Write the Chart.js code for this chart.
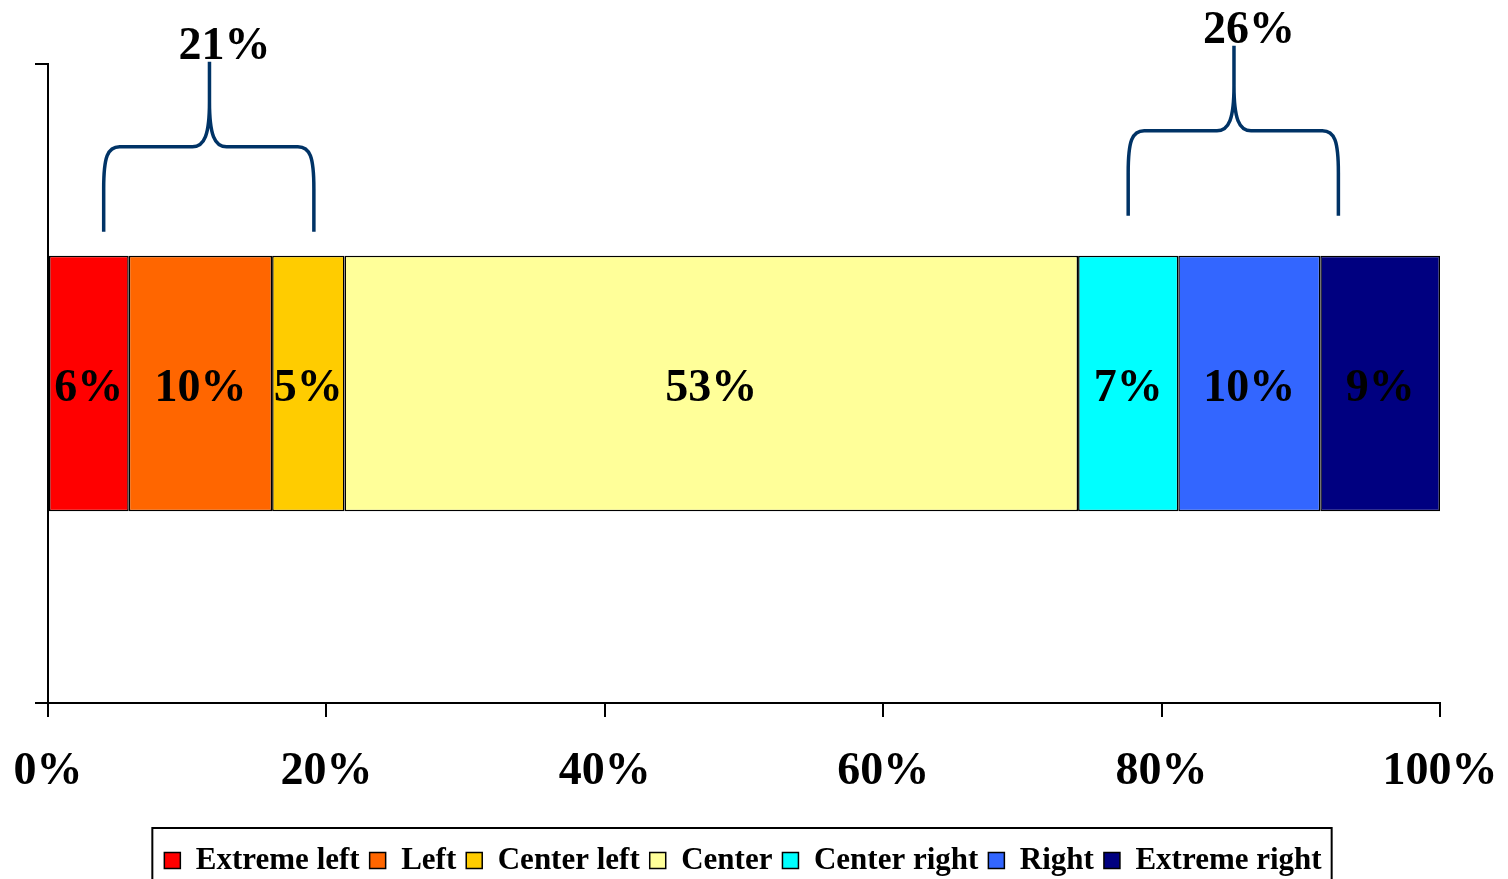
<!DOCTYPE html>
<html>
<head>
<meta charset="utf-8">
<script src="https://cdn.jsdelivr.net/npm/chart.js@4"></script>
<style>
  html, body { margin: 0; padding: 0; background: #fff; }
  canvas { display: block; }
</style>
</head>
<body>
<canvas id="myChart" width="1508" height="879"></canvas>
<script>
var categories = [''];
var seriesNames = ['Extreme left', 'Left', 'Center left', 'Center', 'Center right', 'Right', 'Extreme right'];
var seriesValues = [5.8, 10.3, 5.2, 52.7, 7.2, 10.2, 8.6];
var seriesColors = ['#FF0000', '#FF6600', '#FFCC00', '#FFFF99', '#00FFFF', '#3366FF', '#000080'];
var xTicks = [0, 20, 40, 60, 80, 100];

// braces over groups of series: which series, and where the brace sits in axis units
var braceGroups = [[0, 1, 2], [4, 5, 6]];
var braceFrom = [4.0, 77.6];
var braceTo = [19.1, 92.7];
var bracePeak = [11.6, 85.2];

var serif = '"Liberation Serif", "Times New Roman", serif';

var datasets = seriesNames.map(function (name, i) {
    return {
        label: name,
        data: [seriesValues[i]],
        backgroundColor: seriesColors[i],
        borderColor: '#000',
        borderWidth: 1.5,
        borderSkipped: false
    };
});

// percent text in the middle of every segment
var segmentLabels = {
    id: 'segmentLabels',
    afterDatasetsDraw: function (chart) {
        var ctx = chart.ctx;
        ctx.save();
        ctx.font = 'bold 46px ' + serif;
        ctx.fillStyle = '#000';
        ctx.textAlign = 'center';
        ctx.textBaseline = 'middle';
        chart.data.datasets.forEach(function (ds, i) {
            var bar = chart.getDatasetMeta(i).data[0];
            var c = bar.getCenterPoint();
            ctx.fillText(Math.round(ds.data[0]) + '%', c.x, c.y + 6);
        });
        ctx.restore();
    }
};

// curly braces with group totals
var braces = {
    id: 'braces',
    afterDraw: function (chart) {
        var ctx = chart.ctx;
        var x = chart.scales.x;
        var barTop = chart.getDatasetMeta(0).data[0];
        var top = barTop.y - barTop.height / 2;
        var lifts = [24, 40];
        ctx.save();
        ctx.strokeStyle = '#003366';
        ctx.lineWidth = 3.5;
        ctx.lineCap = 'butt';
        braceGroups.forEach(function (group, g) {
            var x0 = x.getPixelForValue(braceFrom[g]);
            var x1 = x.getPixelForValue(braceTo[g]);
            var pk = x.getPixelForValue(bracePeak[g]);
            var yb = top - lifts[g];
            var ys = yb - 85;
            var yt = ys - 85;
            ctx.beginPath();
            ctx.moveTo(x0, yb);
            ctx.lineTo(x0, ys + 42);
            ctx.bezierCurveTo(x0, ys + 10, x0 + 4, ys, x0 + 16, ys);
            ctx.lineTo(pk - 17, ys);
            ctx.bezierCurveTo(pk - 5, ys, pk, ys - 12, pk, ys - 45);
            ctx.lineTo(pk, yt);
            ctx.moveTo(pk, ys - 45);
            ctx.bezierCurveTo(pk, ys - 12, pk + 5, ys, pk + 17, ys);
            ctx.lineTo(x1 - 16, ys);
            ctx.bezierCurveTo(x1 - 4, ys, x1, ys + 10, x1, ys + 42);
            ctx.lineTo(x1, yb);
            ctx.stroke();

            var total = 0;
            group.forEach(function (i) { total += seriesValues[i]; });
            ctx.font = 'bold 46px ' + serif;
            ctx.fillStyle = '#000';
            ctx.textAlign = 'center';
            ctx.textBaseline = 'alphabetic';
            ctx.fillText(Math.round(total) + '%', pk + 15, yt - 3);
        });
        ctx.restore();
    }
};

// legend frame, and nudge the legend to where it sits in the original
var legendFrame = {
    id: 'legendFrame',
    afterLayout: function (chart) {
        chart.legend.left += 23;
        chart.legend.right += 23;
    },
    afterDraw: function (chart) {
        var boxes = chart.legend.legendHitBoxes;
        if (!boxes || !boxes.length) return;
        var first = boxes[0], last = boxes[boxes.length - 1];
        var ctx = chart.ctx;
        ctx.save();
        ctx.strokeStyle = '#000';
        ctx.lineWidth = 2;
        ctx.strokeRect(first.left - 12, chart.legend.top - 7, last.left + last.width - first.left + 22, 100);
        ctx.restore();
    }
};

var ctx = document.getElementById('myChart');
var chart = new Chart(ctx, {
    type: 'bar',
    data: {
        labels: categories,
        datasets: datasets
    },
    options: {
        indexAxis: 'y',
        responsive: false,
        animation: false,
        layout: {
            padding: { top: 64, right: 68, left: 0, bottom: -7 }
        },
        datasets: {
            bar: { categoryPercentage: 1, barPercentage: 0.4 }
        },
        scales: {
            x: {
                stacked: true,
                min: 0,
                max: 100,
                afterFit: function (s) {
                    s.height = 132;
                    s.paddingLeft = 0;
                    s.paddingRight = 0;
                },
                afterBuildTicks: function (s) {
                    s.ticks = xTicks.map(function (v) { return { value: v }; });
                },
                border: { color: '#000', width: 2 },
                grid: { drawOnChartArea: false, tickLength: 14, color: '#000', lineWidth: 2 },
                ticks: {
                    padding: 28,
                    color: '#000',
                    font: { family: serif, size: 46, weight: 'bold' },
                    maxRotation: 0,
                    callback: function (v) { return v + '%'; }
                }
            },
            y: {
                stacked: true,
                afterFit: function (s) { s.width = 48; },
                border: { color: '#000', width: 2 },
                grid: { drawOnChartArea: false, tickLength: 13, color: '#000', lineWidth: 2 },
                ticks: { display: false }
            }
        },
        plugins: {
            tooltip: { enabled: false },
            legend: {
                position: 'bottom',
                labels: {
                    boxWidth: 16,
                    boxHeight: 16,
                    padding: 10,
                    color: '#000',
                    font: { family: serif, size: 31, weight: 'bold' }
                }
            }
        }
    },
    plugins: [segmentLabels, braces, legendFrame]
});
</script>
</body>
</html>
